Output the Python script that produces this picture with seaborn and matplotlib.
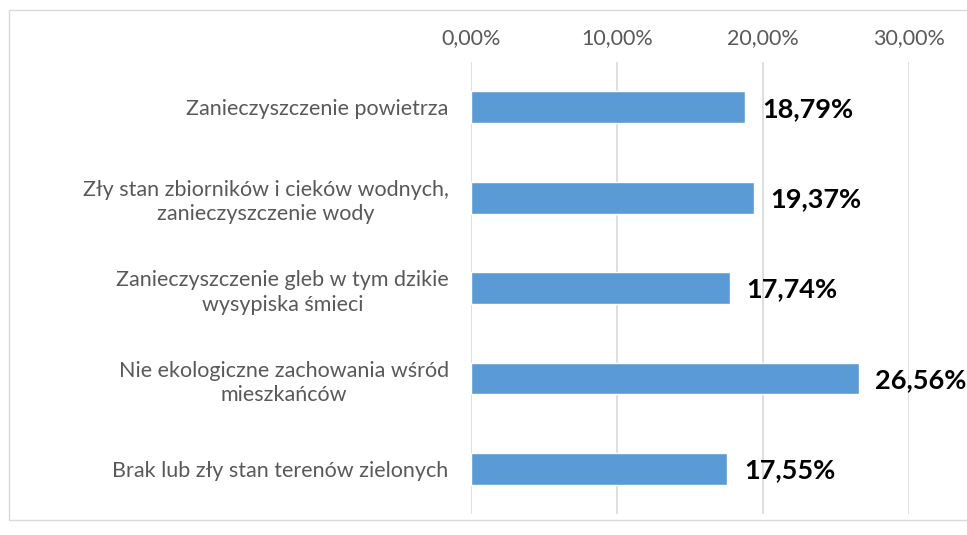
import matplotlib
matplotlib.use("Agg")
import matplotlib.pyplot as plt
import pandas as pd
import seaborn as sns
from matplotlib.patches import Rectangle
from matplotlib.ticker import FuncFormatter

categories = [
    "Zanieczyszczenie powietrza",
    "Zły stan zbiorników i cieków wodnych,\nzanieczyszczenie wody",
    "Zanieczyszczenie gleb w tym dzikie\nwysypiska śmieci",
    "Nie ekologiczne zachowania wśród\nmieszkańców",
    "Brak lub zły stan terenów zielonych",
]
values = [0.1879, 0.1937, 0.1774, 0.2656, 0.1755]
ticks = [0.0, 0.1, 0.2, 0.3]

df = pd.DataFrame({"category": categories, "value": values})

sns.set_theme(style="white")
plt.rcParams["font.family"] = ["Lato", "DejaVu Sans"]

fig = plt.figure(figsize=(9.67, 5.35), dpi=100)
ax = fig.add_axes([0.487, 0.039, 0.453, 0.845])

sns.barplot(data=df, y="category", x="value", color="#5B9BD5",
            width=0.35, orient="h", ax=ax, saturation=1)

ax.set_xlim(0, 0.3)
ax.set_xticks(ticks)
ax.xaxis.set_major_formatter(FuncFormatter(lambda v, p: f"{v*100:.2f}%".replace(".", ",")))
ax.xaxis.tick_top()
ax.tick_params(axis="x", length=0, pad=10, labelsize=15.5, labelcolor="#595959")
ax.tick_params(axis="y", length=0, pad=16, labelsize=15.5, labelcolor="#595959")
for lbl in ax.get_yticklabels():
    lbl.set_multialignment("center")
    lbl.set_linespacing(1.3)
ax.grid(axis="x", color="#D9D9D9", linewidth=1.2)
ax.set_axisbelow(True)
for s in ax.spines.values():
    s.set_visible(False)
ax.set_xlabel("")
ax.set_ylabel("")

for i, v in enumerate(values):
    ax.annotate(f"{v*100:.2f}%".replace(".", ","), xy=(v, i), xytext=(12, -1),
                textcoords="offset points", va="center", ha="left",
                fontsize=19.5, fontweight="bold", color="black",
                annotation_clip=False)

fig.patches.append(Rectangle((9 / 967, 1 - 520 / 535), 1.0, 510 / 535,
                             transform=fig.transFigure, fill=False,
                             edgecolor="#D9D9D9", linewidth=1))

fig.savefig("out.png", dpi=100)
